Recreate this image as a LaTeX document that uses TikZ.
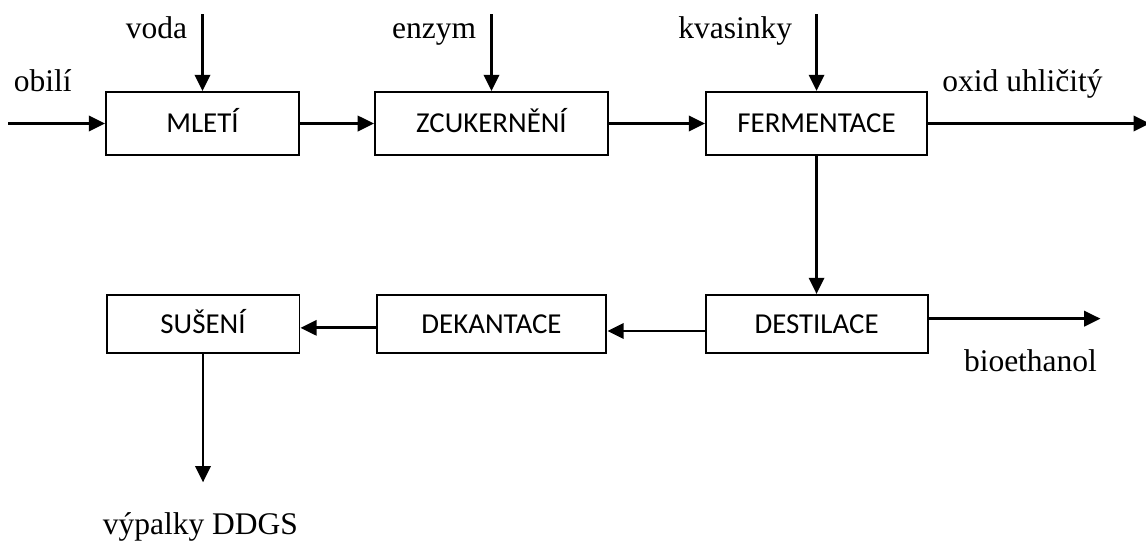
\documentclass[tikz,border=0pt]{standalone}
\usepackage{fontspec}
\setmainfont{Liberation Serif}
\newfontfamily\boxfont{Carlito}
\usetikzlibrary{arrows.meta, positioning}

\begin{document}
\begin{tikzpicture}[
    x=0.381pt,
    y=-0.381pt,
    font=\fontsize{12}{14}\selectfont,
    block/.style={
        rectangle,
        draw=black,
        line width=0.75pt,
        font=\boxfont\fontsize{11}{13}\selectfont,
        text height=7.2pt,
        text depth=0pt,
        minimum height=24pt,
        inner sep=2pt
    },
    flow/.style={-{Triangle[length=6.2pt,width=5.8pt]}, line width=1.1pt},
    lbl/.style={inner sep=0pt}
]

\useasboundingbox (0,0) rectangle (1146,542);

% upper row
\node[block, minimum width=73.5pt] (mleti) at (202.5,123.5) {MLETÍ};
\node[block, minimum width=88.8pt, right=28.2pt of mleti] (zcukerneni) {ZCUKERNĚNÍ};
\node[block, minimum width=84.2pt, right=36.6pt of zcukerneni] (fermentace) {FERMENTACE};

% lower row
\node[block, minimum width=84.6pt, minimum height=22pt, below=52.6pt of fermentace] (destilace) {DESTILACE};
\node[block, minimum width=87.6pt, minimum height=22pt, left=37pt of destilace] (dekantace) {DEKANTACE};
\node[block, minimum width=73.5pt, minimum height=22pt, left=28.6pt of dekantace] (suseni) {SUŠENÍ};

% inputs and outputs
\coordinate[left=36.9pt of mleti] (obiliin);
\coordinate[above=29.3pt of mleti] (vodain);
\coordinate[above=29.3pt of zcukerneni] (enzymin);
\coordinate[above=29.3pt of fermentace] (kvasinkyin);
\coordinate[right=84.5pt of fermentace] (oxidout);
\coordinate (bioout) at ([xshift=65.5pt,yshift=2pt]destilace.east);
\coordinate (destout) at ([yshift=-2.7pt]destilace.west);
\coordinate (dekout) at ([yshift=-1.5pt]dekantace.west);
\coordinate[below=49pt of suseni] (ddgsout);

\node[lbl, anchor=base west] at ([xshift=2pt,yshift=12.2pt]obiliin) {obilí};
\node[lbl, anchor=base east] at ([xshift=-5.7pt,yshift=-9.1pt]vodain) {voda};
\node[lbl, anchor=base east] at ([xshift=-5.7pt,yshift=-9.1pt]enzymin) {enzym};
\node[lbl, anchor=base east] at ([xshift=-9.1pt,yshift=-9.1pt]kvasinkyin) {kvasinky};
\node[lbl, anchor=base west] at ([xshift=5.3pt,yshift=12.2pt]fermentace.east) {oxid uhličitý};
\node[lbl, anchor=base west] at ([xshift=13.3pt,yshift=-18.3pt]destilace.east) {bioethanol};
\node[lbl, anchor=base] at ([xshift=-1pt,yshift=-19.8pt]ddgsout) {výpalky DDGS};

\draw[flow] (obiliin) -- (mleti);
\draw[flow] (vodain) -- (mleti);
\draw[flow] (enzymin) -- (zcukerneni);
\draw[flow] (kvasinkyin) -- (fermentace);
\draw[flow] (mleti) -- (zcukerneni);
\draw[flow] (zcukerneni) -- (fermentace);
\draw[flow] (fermentace) -- (oxidout);
\draw[flow] (fermentace) -- (destilace);
\draw[flow] ([yshift=2pt]destilace.east) -- (bioout);
\draw[flow] (destout) -- (destout -| dekantace.east);
\draw[flow] (dekout) -- (dekout -| suseni.east);
\draw[flow] (suseni) -- (ddgsout);

\end{tikzpicture}
\end{document}
